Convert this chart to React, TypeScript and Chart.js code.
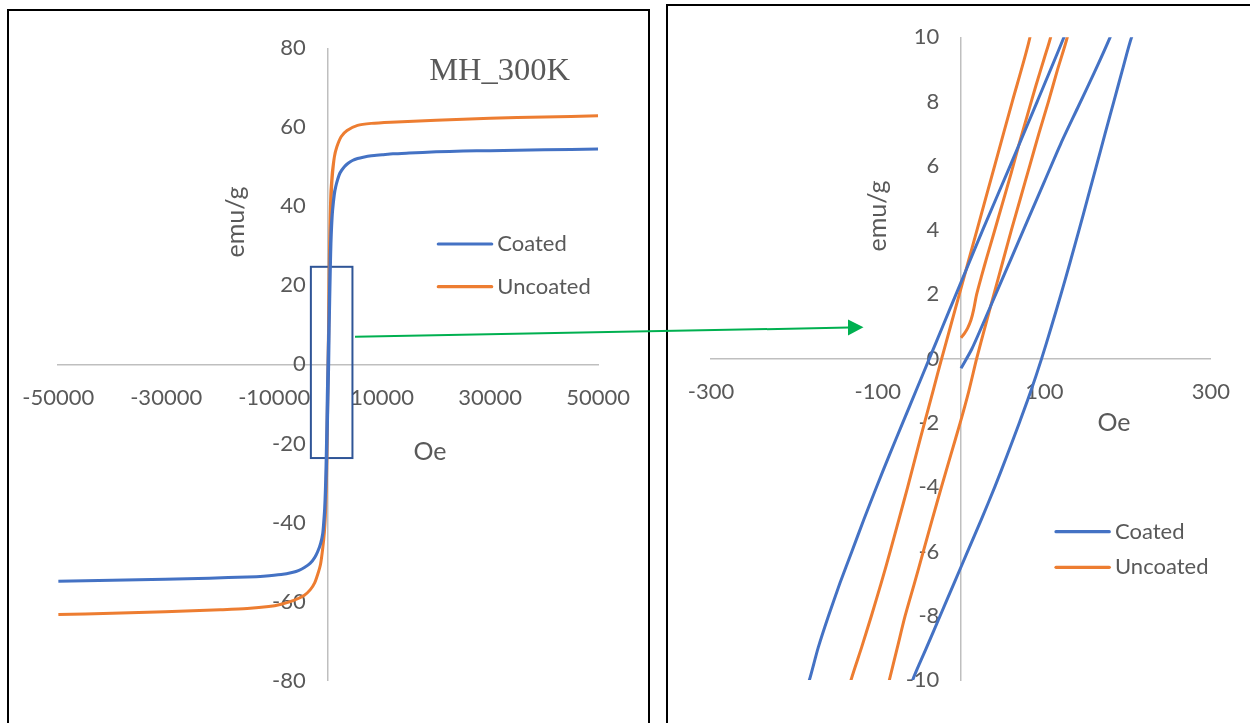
import React, { useEffect, useRef } from 'react';
import { Chart, registerables } from 'chart.js';

Chart.register(...registerables);

// ---------------- data (H in Oe, M in emu/g) ----------------
// Coated sample: virgin curve, descending branch, ascending branch
const coatedVirginH = [0, 13, 35, 55, 65, 80, 100, 120, 140, 160, 179, 240, 320, 420, 520, 650, 830, 1150, 1400, 1750, 2200, 3000, 3700, 4500, 5450, 6500, 8000, 10000, 12000, 15000, 20000, 25000, 30000, 40000, 50000];
const coatedVirginM = [-0.3, 0.3, 1.6, 2.8, 3.4, 4.3, 5.5, 6.7, 7.8, 8.9, 10, 13.8, 19, 26, 31.5, 35.5, 39, 43, 44.9, 46.7, 48.4, 50, 50.9, 51.6, 52.1, 52.45, 52.8, 53.05, 53.3, 53.5, 53.8, 54.0, 54.1, 54.3, 54.5];

const coatedDownH = [50000, 40000, 30000, 25000, 20000, 15000, 12000, 10000, 8000, 6500, 5450, 4500, 3700, 3000, 2200, 1750, 1400, 1150, 830, 650, 520, 400, 300, 200, 123.6, 91.5, 59, 26, 10, -6, -22, -38, -54, -70, -86, -101.5, -116.5, -131, -145.5, -159, -171.5, -182, -230, -300, -400, -520, -650, -800, -1000, -1400, -1940, -2500, -3300, -4400, -5400, -6500, -8700, -12000, -15000, -22000, -30200, -40000, -50000];
const coatedDownM = [54.5, 54.3, 54.1, 54.0, 53.8, 53.5, 53.3, 53.05, 52.8, 52.45, 52.1, 51.6, 50.9, 50.0, 48.5, 46.8, 45.0, 43.5, 39.5, 36.5, 33.5, 28.5, 22.5, 15, 10, 8, 6, 4, 3, 2, 1, 0, -1, -2, -3, -4, -5, -6, -7, -8, -9, -10, -14, -19.5, -26, -32, -36.5, -39.5, -42.7, -45.3, -47.4, -48.9, -50.3, -51.4, -52.1, -52.6, -53.2, -53.6, -53.8, -54.1, -54.4, -54.6, -54.9];

const coatedUpH = [-50000, -40000, -30200, -22000, -15000, -12000, -8700, -6500, -5400, -4400, -3300, -2500, -1940, -1400, -1000, -800, -650, -520, -400, -300, -200, -120, -58, -41.5, -25, -8.5, 8, 24.5, 40.5, 55.5, 70, 84, 96.8, 108.6, 120, 131, 141.7, 152.2, 162.6, 173, 183.5, 194, 204.8, 260, 330, 420, 520, 650, 830, 1150, 1400, 1750, 2200, 3000, 3700, 4500, 5450, 6500, 8000, 10000, 12000, 15000, 20000, 25000, 30000, 40000, 50000];
const coatedUpM = [-54.9, -54.6, -54.4, -54.1, -53.8, -53.6, -53.2, -52.6, -52.1, -51.4, -50.3, -48.9, -47.4, -45.4, -42.9, -40.5, -37.5, -34, -30, -25.5, -19.5, -14.5, -10, -9, -8, -7, -6, -5, -4, -3, -2, -1, 0, 1, 2, 3, 4, 5, 6, 7, 8, 9, 10, 14, 19, 25, 30.5, 35, 39, 43.3, 45, 46.7, 48.4, 50, 50.9, 51.6, 52.1, 52.45, 52.8, 53.05, 53.3, 53.5, 53.8, 54.0, 54.1, 54.3, 54.5];

// Uncoated sample
const uncoatedVirginH = [0, 4, 8, 12, 15, 18.8, 25, 31, 40, 50, 60, 70, 80, 90, 100, 107.6, 150, 200, 260, 340, 420, 520, 650, 800, 1150, 1600, 2400, 3500, 5450, 8000, 11600, 20000, 30000, 40000, 50000];
const uncoatedVirginM = [0.65, 0.78, 0.95, 1.2, 1.5, 2.0, 2.6, 3.15, 3.95, 4.85, 5.75, 6.7, 7.6, 8.5, 9.35, 10, 14.5, 19.5, 25, 31, 36, 40.5, 45, 48, 52.5, 55, 57.6, 59.2, 60.5, 61.0, 61.3, 61.8, 62.3, 62.6, 62.9];

const uncoatedDownH = [50000, 40000, 30000, 20000, 11600, 8000, 5450, 3500, 2400, 1600, 1150, 800, 650, 520, 420, 340, 260, 200, 150, 82.8, 61.6, 40.4, 19.2, 8.6, -2, -12.6, -23.2, -33.5, -43.8, -54, -64, -74.5, -85, -96, -107.5, -119.5, -132, -160, -200, -260, -340, -420, -520, -700, -1000, -1400, -1900, -2500, -3300, -4400, -6500, -8700, -11000, -15000, -20000, -30200, -40000, -50000];
const uncoatedDownM = [62.9, 62.6, 62.3, 61.8, 61.3, 61.0, 60.5, 59.2, 57.6, 55, 52.5, 49, 46.5, 44, 40, 35.5, 29.5, 24, 18.5, 10, 8, 6, 4, 3, 2, 1, 0, -1, -2, -3, -4, -5, -6, -7, -8, -9, -10, -12.7, -16.5, -22, -29, -34, -38, -42.5, -46.5, -50.5, -53, -55.3, -57, -58.4, -59.8, -60.7, -61.3, -61.8, -62.1, -62.6, -63.0, -63.3];

const uncoatedUpH = [-50000, -40000, -30200, -20000, -15000, -11000, -8700, -6500, -4400, -3300, -2500, -1900, -1400, -1000, -700, -520, -420, -340, -260, -200, -140, -86, -76.5, -67, -56, -45.2, -34.5, -23.5, -12.3, -1, 9.5, 18.8, 29, 39.5, 50, 60.5, 71.5, 82.5, 93.5, 105, 116, 127.6, 160, 200, 260, 340, 420, 520, 650, 800, 1150, 1600, 2400, 3500, 5450, 8000, 11600, 20000, 30000, 40000, 50000];
const uncoatedUpM = [-63.3, -63.0, -62.6, -62.1, -61.8, -61.3, -60.7, -59.8, -58.4, -57, -55.3, -53, -50.5, -46.5, -42.5, -38.5, -35, -31, -26, -21, -15.5, -10, -9, -8, -7, -6, -5, -4, -3, -2, -1, 0, 1, 2, 3, 4, 5, 6, 7, 8, 9, 10, 13.5, 18, 24.5, 31, 36.5, 41.5, 45.5, 48.5, 52.5, 55, 57.6, 59.2, 60.5, 61.0, 61.3, 61.8, 62.3, 62.6, 62.9];

const seriesNames = ['Coated', 'Uncoated'];
const seriesColors = ['#4472C4', '#ED7D31'];

// axis ticks
const mainXTicks = [-50000, -30000, -10000, 10000, 30000, 50000];
const mainYTicks = [-80, -60, -40, -20, 0, 20, 40, 60, 80];
const zoomXTicks = [-300, -100, 100, 300];
const zoomYTicks = [-10, -8, -6, -4, -2, 0, 2, 4, 6, 8, 10];

const chartTitle = 'MH_300K';
const xAxisTitle = 'Oe';
const yAxisTitle = 'emu/g';

// zoom window marked on the main chart
const zoomBoxH = [-3200, 4500];
const zoomBoxM = [-23.7, 24.7];

// ---------------- helpers ----------------
const zip = (h: number[], m: number[]) => h.map((v, i) => ({ x: v, y: m[i] }));

const coatedPoints = [
  ...zip(coatedVirginH, coatedVirginM),
  ...zip(coatedDownH, coatedDownM),
  ...zip(coatedUpH, coatedUpM),
];
const uncoatedPoints = [
  ...zip(uncoatedVirginH, uncoatedVirginM),
  ...zip(uncoatedDownH, uncoatedDownM),
  ...zip(uncoatedUpH, uncoatedUpM),
];

const TEXT = '#595959';
const FONT = 'Lato, "Open Sans", sans-serif';

const decorPlugin = {
  id: 'decor',
  beforeDatasetsDraw(chart: any, _args: any, opts: any) {
    if (!opts || !opts.box) return;
    const { ctx } = chart;
    const xs = chart.scales.x;
    const ys = chart.scales.y;
    const b = opts.box;
    const x0 = xs.getPixelForValue(b.h[0]);
    const x1 = xs.getPixelForValue(b.h[1]);
    const y0 = ys.getPixelForValue(b.m[1]);
    const y1 = ys.getPixelForValue(b.m[0]);
    ctx.save();
    ctx.strokeStyle = b.color;
    ctx.lineWidth = b.width;
    ctx.strokeRect(x0, y0, x1 - x0, y1 - y0);
    ctx.restore();
  },
  afterDraw(chart: any, _args: any, opts: any) {
    if (!opts) return;
    const { ctx } = chart;
    ctx.save();
    ctx.fillStyle = TEXT;
    if (opts.title) {
      ctx.font = `${opts.title.size}px "Liberation Serif", "Times New Roman", serif`;
      ctx.textAlign = 'center';
      ctx.textBaseline = 'alphabetic';
      ctx.fillText(opts.title.text, opts.title.x, opts.title.y);
    }
    ctx.textBaseline = 'middle';
    ctx.font = `25px ${FONT}`;
    if (opts.xTitle) {
      ctx.textAlign = 'center';
      ctx.fillText(opts.xTitle.text, opts.xTitle.x, opts.xTitle.y);
    }
    if (opts.yTitle) {
      ctx.save();
      ctx.translate(opts.yTitle.x, opts.yTitle.y);
      ctx.rotate(-Math.PI / 2);
      ctx.textAlign = 'center';
      ctx.fillText(opts.yTitle.text, 0, 0);
      ctx.restore();
    }
    ctx.font = `22px ${FONT}`;
    if (opts.legend) {
      const L = opts.legend;
      chart.data.datasets.forEach((ds: any, i: number) => {
        const y = L.y[i];
        ctx.strokeStyle = ds.borderColor;
        ctx.lineWidth = 3.2;
        ctx.lineCap = 'round';
        ctx.beginPath();
        ctx.moveTo(L.x0, y);
        ctx.lineTo(L.x1, y);
        ctx.stroke();
        ctx.fillStyle = TEXT;
        ctx.textAlign = 'left';
        ctx.fillText(ds.label, L.tx, y);
      });
    }
    ctx.restore();
  },
};

function makeConfig(
  xr: number[], yr: number[], xt: number[], yt: number[],
  labelShift: number, padding: any, decor: any,
) {
  const tickFont = { family: FONT, size: 22 };
  const build = (list: number[]) => (s: any) => { s.ticks = list.map((v) => ({ value: v })); };
  return {
    type: 'scatter',
    data: {
      datasets: [coatedPoints, uncoatedPoints].map((pts, i) => ({
        label: seriesNames[i],
        data: pts,
        showLine: true,
        borderColor: seriesColors[i],
        backgroundColor: seriesColors[i],
        borderWidth: 3,
        pointRadius: 0,
        pointHoverRadius: 0,
        tension: 0.25,
        capBezierPoints: false,
        clip: 0,
      })),
    },
    options: {
      animation: false,
      responsive: false,
      devicePixelRatio: 1,
      layout: { padding },
      events: [],
      plugins: {
        legend: { display: false },
        title: { display: false },
        tooltip: { enabled: false },
        decor,
      },
      scales: {
        x: {
          type: 'linear',
          min: xr[0],
          max: xr[1],
          position: { y: 0 },
          afterBuildTicks: build(xt),
          grid: { display: false, drawTicks: false, tickLength: 0 },
          border: { display: true, color: '#BFBFBF', width: 1.5 },
          ticks: {
            font: tickFont, color: TEXT, padding: 20, maxRotation: 0, autoSkip: false,
            callback: (v: any) => String(v),
          },
        },
        y: {
          type: 'linear',
          min: yr[0],
          max: yr[1],
          position: { x: 0 },
          afterBuildTicks: build(yt),
          grid: { display: false, drawTicks: false, tickLength: 0 },
          border: { display: true, color: '#BFBFBF', width: 1.5 },
          ticks: { display: false },
        },
        // tick-label axis for the vertical axis, set a little to the left of H = 0
        yLabels: {
          type: 'linear',
          axis: 'y',
          min: yr[0],
          max: yr[1],
          position: { x: -labelShift },
          afterBuildTicks: build(yt),
          grid: { display: false, drawTicks: false, tickLength: 0 },
          border: { display: false },
          ticks: {
            font: tickFont, color: TEXT, padding: 0, autoSkip: false,
            callback: (v: any) => String(v),
          },
        },
      },
    },
    plugins: [decorPlugin],
  };
}

function ChartCanvas({ config, width, height, left, top }: any) {
  const ref = useRef<HTMLCanvasElement>(null);
  useEffect(() => {
    if (!ref.current) return;
    const chart = new Chart(ref.current, config);
    return () => chart.destroy();
  }, []);
  return (
    <canvas
      ref={ref}
      width={width}
      height={height}
      style={{ position: 'absolute', left, top, width, height, display: 'block' }}
    />
  );
}

export default function App() {
  const mainConfig = makeConfig(
    [-50000, 50000], [-80, 80], mainXTicks, mainYTicks, 4150,
    { left: 58.2, right: 48.2, top: 48.3, bottom: 42.5 },
    {
      title: { text: chartTitle, x: 499.6, y: 80, size: 32.5 },
      xTitle: { text: xAxisTitle, x: 430, y: 452 },
      yTitle: { text: yAxisTitle, x: 236, y: 222 },
      legend: { x0: 438.3, x1: 491.7, tx: 497.3, y: [244, 286.7] },
      box: { h: zoomBoxH, m: zoomBoxM, color: '#2F5597', width: 2 },
    },
  );
  const zoomConfig = makeConfig(
    [-300, 300], [-10, 10], zoomXTicks, zoomYTicks, 26,
    { left: 61.1, right: 38.7, top: 37.3, bottom: 43 },
    {
      xTitle: { text: xAxisTitle, x: 464, y: 423 },
      yTitle: { text: yAxisTitle, x: 227.5, y: 216 },
      legend: { x0: 406, x1: 459.3, tx: 465, y: [531.7, 567.3] },
    },
  );

  return (
    <div style={{ position: 'fixed', left: 0, top: 0, width: 1250, height: 723, overflow: 'hidden', background: '#fff' }}>
      <div style={{ position: 'absolute', left: 7, top: 9, width: 643, height: 760, border: '2px solid #000', boxSizing: 'border-box' }} />
      <div style={{ position: 'absolute', left: 666, top: 4, width: 700, height: 760, border: '2px solid #000', boxSizing: 'border-box' }} />
      <ChartCanvas config={mainConfig} width={650} height={723} left={0} top={0} />
      <ChartCanvas config={zoomConfig} width={600} height={723} left={650} top={0} />
      <svg width={1250} height={723} style={{ position: 'absolute', left: 0, top: 0, pointerEvents: 'none' }}>
        <line x1={355} y1={336.7} x2={849} y2={327.6} stroke="#00B050" strokeWidth={2} />
        <polygon points="863.5,327.3 848,319.4 848,335.4" fill="#00B050" />
      </svg>
    </div>
  );
}
